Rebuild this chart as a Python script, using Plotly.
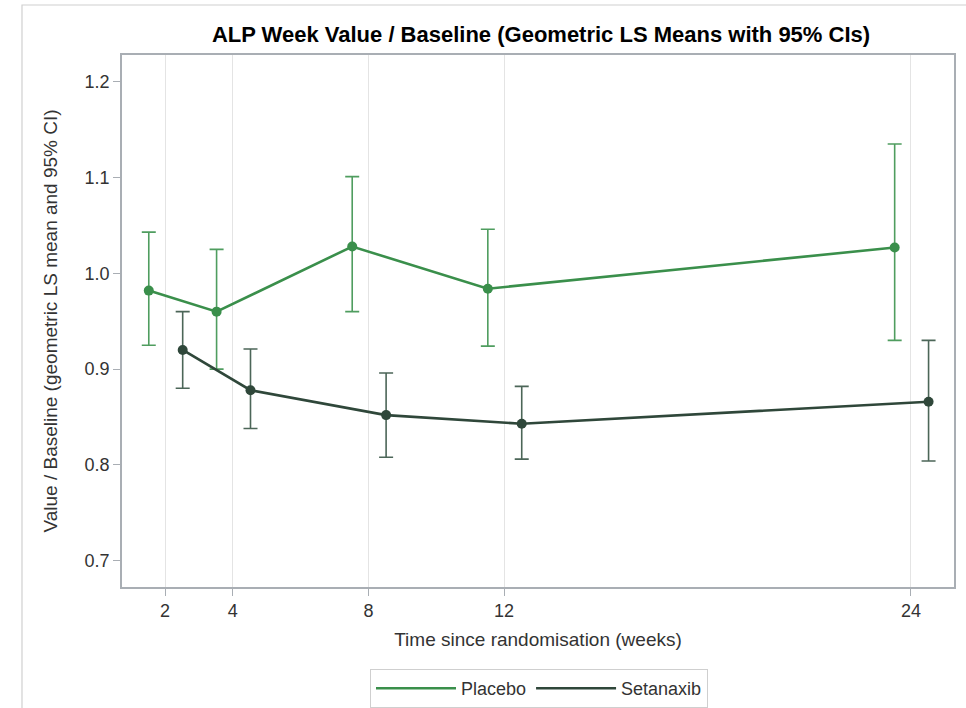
import plotly.graph_objects as go

weeks = [2, 4, 8, 12, 24]
tick_labels = ["2", "4", "8", "12", "24"]
y_ticks = [0.7, 0.8, 0.9, 1.0, 1.1, 1.2]

placebo_mean = [0.982, 0.960, 1.028, 0.984, 1.027]
placebo_lower = [0.925, 0.900, 0.960, 0.924, 0.930]
placebo_upper = [1.043, 1.025, 1.101, 1.046, 1.135]

setanaxib_mean = [0.920, 0.878, 0.852, 0.843, 0.866]
setanaxib_lower = [0.880, 0.838, 0.808, 0.806, 0.804]
setanaxib_upper = [0.960, 0.921, 0.896, 0.882, 0.930]

FONT = "Liberation Sans, Arial, sans-serif"
TXT = "#333333"
placebo_col = "#3a8f4b"
placebo_err = "#4f9d5f"
set_col = "#2f473a"
set_err = "#4c6658"

W, H = 966, 708
L, R, T, B = 122, 954, 55, 587  # plot area in pixels


def trace(name, off, mean, lo, hi, col, ecol):
    return go.Scatter(
        x=[w + off for w in weeks], y=mean, name=name, showlegend=False,
        mode="lines+markers",
        line=dict(color=col, width=2.6),
        marker=dict(color=col, size=10),
        error_y=dict(type="data", symmetric=False,
                     array=[h - m for h, m in zip(hi, mean)],
                     arrayminus=[m - l for m, l in zip(mean, lo)],
                     color=ecol, thickness=1.6, width=7),
    )


fig = go.Figure()
fig.add_trace(trace("Placebo", -0.48, placebo_mean, placebo_lower, placebo_upper, placebo_col, placebo_err))
fig.add_trace(trace("Setanaxib", 0.52, setanaxib_mean, setanaxib_lower, setanaxib_upper, set_col, set_err))
# legend entries (line only)
fig.add_trace(go.Scatter(x=[None], y=[None], mode="lines", name="Placebo",
                         line=dict(color=placebo_col, width=2.6)))
fig.add_trace(go.Scatter(x=[None], y=[None], mode="lines", name="Setanaxib",
                         line=dict(color=set_col, width=2.6)))

pw, ph = R - L, B - T
fig.update_layout(
    width=W, height=H,
    margin=dict(l=L, r=W - R, t=T, b=H - B, autoexpand=False),
    paper_bgcolor="white", plot_bgcolor="white",
    font=dict(family=FONT, size=18, color=TXT),
    title=dict(text="<b>ALP Week Value / Baseline (Geometric LS Means with 95% CIs)</b>",
               x=541 / W, xanchor="center", y=1 - 34 / H, yanchor="middle",
               font=dict(family=FONT, size=22, color="black")),
    showlegend=True,
    legend=dict(orientation="h", x=(539 - L) / pw, xanchor="center",
                y=(B - 669) / ph, yanchor="top",
                bordercolor="#cfcfcf", borderwidth=1, bgcolor="white",
                font=dict(family=FONT, size=18, color=TXT),
                itemwidth=80, tracegroupgap=0),
    shapes=[dict(type="rect", xref="paper", yref="paper",
                 x0=(22 - L) / pw, x1=(1000 - L) / pw,
                 y0=(B - 5) / ph, y1=(B - 760) / ph,
                 line=dict(color="#d0d0d0", width=1.2), layer="below")],
)

fig.update_xaxes(
    range=[0.73, 25.27], tickmode="array", tickvals=weeks, ticktext=tick_labels,
    showgrid=True, gridcolor="#e4e4e4", gridwidth=1,
    showline=True, linecolor="#a9aeb4", linewidth=1.5, mirror=True,
    ticks="outside", ticklen=7, tickcolor="#a9aeb4",
    tickfont=dict(size=18, color=TXT),
    title=dict(text="Time since randomisation (weeks)", standoff=12,
               font=dict(size=19, color=TXT)),
    zeroline=False, automargin=False,
)
fig.update_yaxes(
    range=[0.6725, 1.228], tickmode="array", tickvals=y_ticks,
    tickformat=".1f", showgrid=False,
    showline=True, linecolor="#a9aeb4", linewidth=1.5, mirror=True,
    ticks="outside", ticklen=7, tickcolor="#a9aeb4",
    tickfont=dict(size=18, color=TXT),
    title=dict(text="Value / Baseline (geometric LS mean and 95% CI)", standoff=22,
               font=dict(size=19, color=TXT)),
    zeroline=False, automargin=False,
)

fig.write_html("out.html", config={"displayModeBar": False},
               post_script="document.body.style.margin='0';")
